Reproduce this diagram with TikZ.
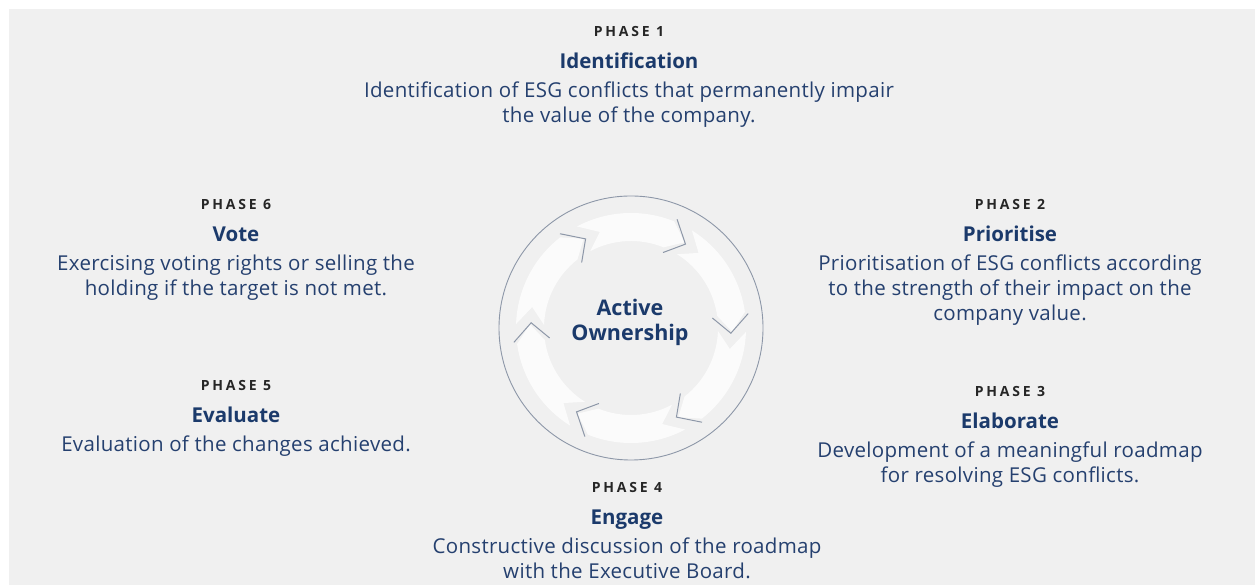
\documentclass[tikz,border=0pt]{standalone}
\usepackage{fontspec}
\setmainfont{Open Sans}
\usetikzlibrary{positioning}

\definecolor{bggray}{HTML}{F0F0F0}
\definecolor{navy}{HTML}{1B3A6B}
\definecolor{bodynavy}{HTML}{25406F}
\definecolor{phasegray}{HTML}{262626}
\definecolor{ringgray}{HTML}{8D97A8}

\tikzset{
    phaselabel/.style={anchor=base, inner sep=0pt, text height=9pt, text depth=0pt,
        text=phasegray, font=\bfseries\fontsize{14}{14}\selectfont\addfontfeatures{LetterSpace=20}},
    phasetitle/.style={below=16pt of #1, inner sep=0pt, text height=15pt, text depth=0pt,
        text=navy, font=\bfseries\fontsize{20.5}{25}\selectfont},
    phasetext/.style={below=13pt of #1, inner sep=0pt,
        align=center, text=bodynavy, font=\fontsize{20.5}{25}\selectfont\addfontfeatures{LetterSpace=1.5}},
    chevron/.style={draw=ringgray, line width=1pt},
    ringpart/.style={fill=white, fill opacity=0.75, draw=none}
}

\begin{document}
\begin{tikzpicture}[x=1pt, y=1pt]
        \useasboundingbox (0,0) rectangle (1255,585);
        \fill[bggray] (9,0) rectangle (1255,576);

        % Add the cycle in the middle
        \coordinate (c) at (631,257);
        \draw[ringgray, line width=0.9pt] (c) circle[radius=132];
        \foreach \a in {0,60,...,300} {
            \fill[ringpart, shift={(c)}]
                (\a+58:115) arc[start angle=\a+58, end angle=\a+8, radius=115]
                -- (\a-2:101) -- (\a+8:87)
                arc[start angle=\a+8, end angle=\a+58, radius=87]
                -- (\a+48:101) -- cycle;
            \draw[chevron, shift={(c)}] (\a+7:82) -- (\a-3:100) -- (\a+7:118);
        }
        \node[text=navy, align=center, inner sep=0pt,
              font=\bfseries\fontsize{21.5}{25}\selectfont] (ao) at (630,263) {Active\\Ownership};

        % Add the phases
        \node[phaselabel] (p1) at (629,548) {PHASE 1};
        \node[phasetitle=p1] (t1) {Identification};
        \node[phasetext=t1] (d1) {Identification of ESG conflicts that permanently impair\\the value of the company.};

        \node[phaselabel] (p2) at (1010,375) {PHASE 2};
        \node[phasetitle=p2] (t2) {Prioritise};
        \node[phasetext=t2] (d2) {Prioritisation of ESG conflicts according\\to the strength of their impact on the\\company value.};

        \node[phaselabel] (p3) at (1010,188) {PHASE 3};
        \node[phasetitle=p3] (t3) {Elaborate};
        \node[phasetext=t3] (d3) {Development of a meaningful roadmap\\for resolving ESG conflicts.};

        \node[phaselabel] (p4) at (627,92) {PHASE 4};
        \node[phasetitle=p4] (t4) {Engage};
        \node[phasetext=t4] (d4) {Constructive discussion of the roadmap\\with the Executive Board.};

        \node[phaselabel] (p5) at (236,194) {PHASE 5};
        \node[phasetitle=p5] (t5) {Evaluate};
        \node[phasetext=t5] (d5) {Evaluation of the changes achieved.};

        \node[phaselabel] (p6) at (236,375) {PHASE 6};
        \node[phasetitle=p6] (t6) {Vote};
        \node[phasetext=t6] (d6) {Exercising voting rights or selling the\\holding if the target is not met.};
    \end{tikzpicture}
\end{document}
